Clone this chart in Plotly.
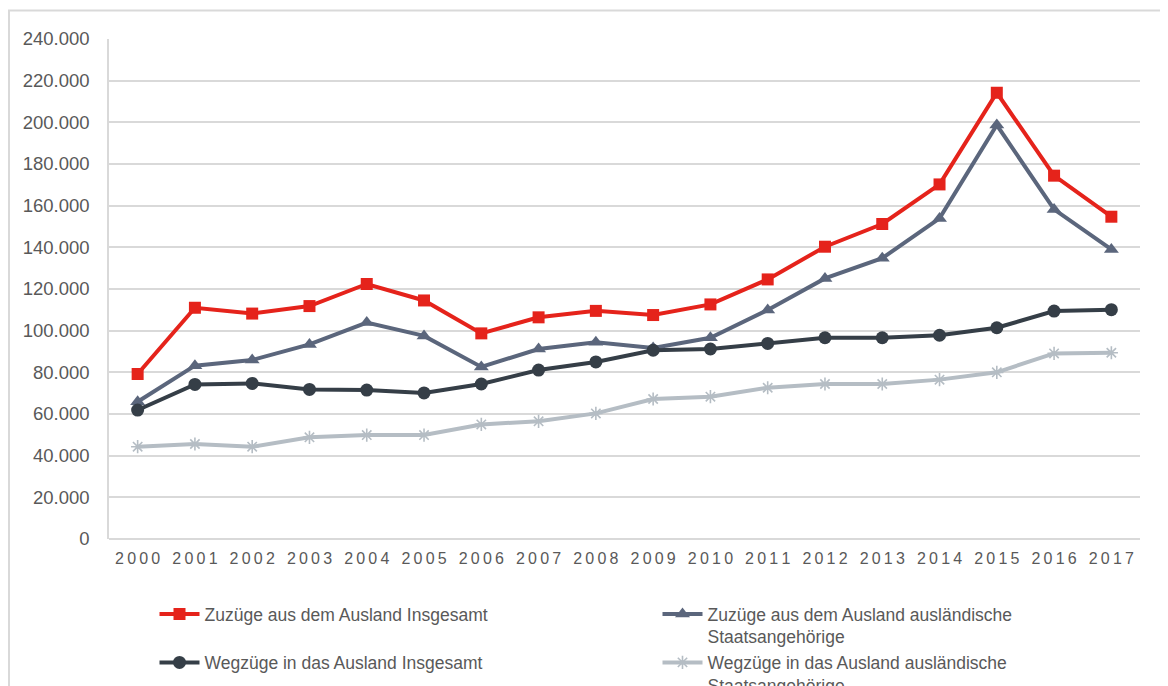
import plotly.graph_objects as go

years = [str(y) for y in range(2000, 2018)]
year_labels = ["\u2009".join(list(y)) for y in years]

zuzuege_insgesamt = [79200, 111000, 108200, 111800, 122400, 114500, 98700, 106400, 109500, 107500,
                     112600, 124600, 140300, 151200, 170200, 214200, 174400, 154700]
zuzuege_auslaender = [65900, 83200, 85900, 93400, 103900, 97500, 82600, 91200, 94400, 91700,
                      96600, 109900, 125100, 134800, 153900, 198700, 158200, 139000]
wegzuege_insgesamt = [61900, 74200, 74700, 71800, 71500, 70100, 74400, 81100, 85000, 90600,
                      91200, 93900, 96600, 96600, 97800, 101400, 109400, 110100]
wegzuege_auslaender = [44300, 45600, 44300, 48800, 49900, 49900, 55000, 56500, 60300, 67200,
                       68300, 72600, 74400, 74400, 76500, 80000, 89100, 89400]

names = [
    "Zuzüge aus dem Ausland Insgesamt",
    "Zuzüge aus dem Ausland ausländische<br>Staatsangehörige",
    "Wegzüge in das Ausland Insgesamt",
    "Wegzüge in das Ausland ausländische<br>Staatsangehörige",
]

TEXT = "#595959"
GRID = "#D9D9D9"
FONT = "Liberation Sans, Arial, sans-serif"

# figure geometry (page body has an 8px margin)
W, H = 1160, 678
ML, MR, MT, MB = 101, 28, 31, 147
PW, PH = W - ML - MR, H - MT - MB

fig = go.Figure()

fig.add_trace(go.Scatter(
    x=years, y=zuzuege_insgesamt, name=names[0], mode="lines+markers",
    legend="legend", legendgroup="a",
    line=dict(color="#E5231B", width=4),
    marker=dict(symbol="square", size=12, color="#E5231B"),
))
fig.add_trace(go.Scatter(
    x=years, y=zuzuege_auslaender, name=names[1], mode="lines+markers",
    legend="legend2", legendgroup="b",
    line=dict(color="#5B667C", width=4),
    marker=dict(symbol="triangle-up", size=13, color="#5B667C"),
))
fig.add_trace(go.Scatter(
    x=years, y=wegzuege_insgesamt, name=names[2], mode="lines+markers",
    legend="legend", legendgroup="c",
    line=dict(color="#353E47", width=4),
    marker=dict(symbol="circle", size=13, color="#353E47"),
))
fig.add_trace(go.Scatter(
    x=years, y=wegzuege_auslaender, name=names[3], mode="lines+markers",
    legend="legend2", legendgroup="d",
    line=dict(color="#B5BDC4", width=4),
    marker=dict(symbol="asterisk-open", size=11, color="#B5BDC4",
                line=dict(color="#B5BDC4", width=1.6)),
))

LEG_FONT = dict(family=FONT, size=17.5, color=TEXT)
leg_y = -57 / PH

fig.update_layout(
    width=W, height=H,
    margin=dict(l=ML, r=MR, t=MT, b=MB, autoexpand=False),
    paper_bgcolor="white", plot_bgcolor="white",
    separators=",.",
    font=dict(family=FONT, color=TEXT, size=17),
    showlegend=True,
    legend=dict(
        orientation="v", x=(146.5 - ML) / PW, xanchor="left", y=leg_y, yanchor="top",
        valign="top", font=LEG_FONT, itemwidth=40, tracegroupgap=22.75,
        traceorder="grouped", bgcolor="rgba(0,0,0,0)",
    ),
    legend2=dict(
        orientation="v", x=(649.5 - ML) / PW, xanchor="left", y=leg_y, yanchor="top",
        valign="top", font=LEG_FONT, itemwidth=40, tracegroupgap=0,
        traceorder="grouped", bgcolor="rgba(0,0,0,0)",
    ),
    shapes=[dict(
        type="rect", xref="paper", yref="paper",
        x0=(1 - ML) / PW, x1=(W + 40 - ML) / PW,
        y0=(PH + MT - (H + 40)) / PH, y1=(PH + MT - 2.5) / PH,
        line=dict(color=GRID, width=2), fillcolor="rgba(0,0,0,0)", layer="below",
    )],
)

fig.update_xaxes(
    type="category", range=[-0.5, 17.5],
    tickmode="array", tickvals=years, ticktext=year_labels,
    showgrid=False, zeroline=False, showline=False, ticks="",
    tickfont=dict(family=FONT, size=16, color=TEXT),
    ticklabelstandoff=8, automargin=False,
)
fig.update_yaxes(
    range=[0, 240000], dtick=20000, tick0=0, tickformat=",d",
    showgrid=True, gridcolor=GRID, gridwidth=1.5,
    zeroline=True, zerolinecolor=GRID, zerolinewidth=1.5,
    showline=True, linecolor=GRID, linewidth=1.5,
    ticks="", tickfont=dict(family=FONT, size=18.5, color=TEXT),
    ticklabelstandoff=14, automargin=False,
)

fig.write_html("out.html")
